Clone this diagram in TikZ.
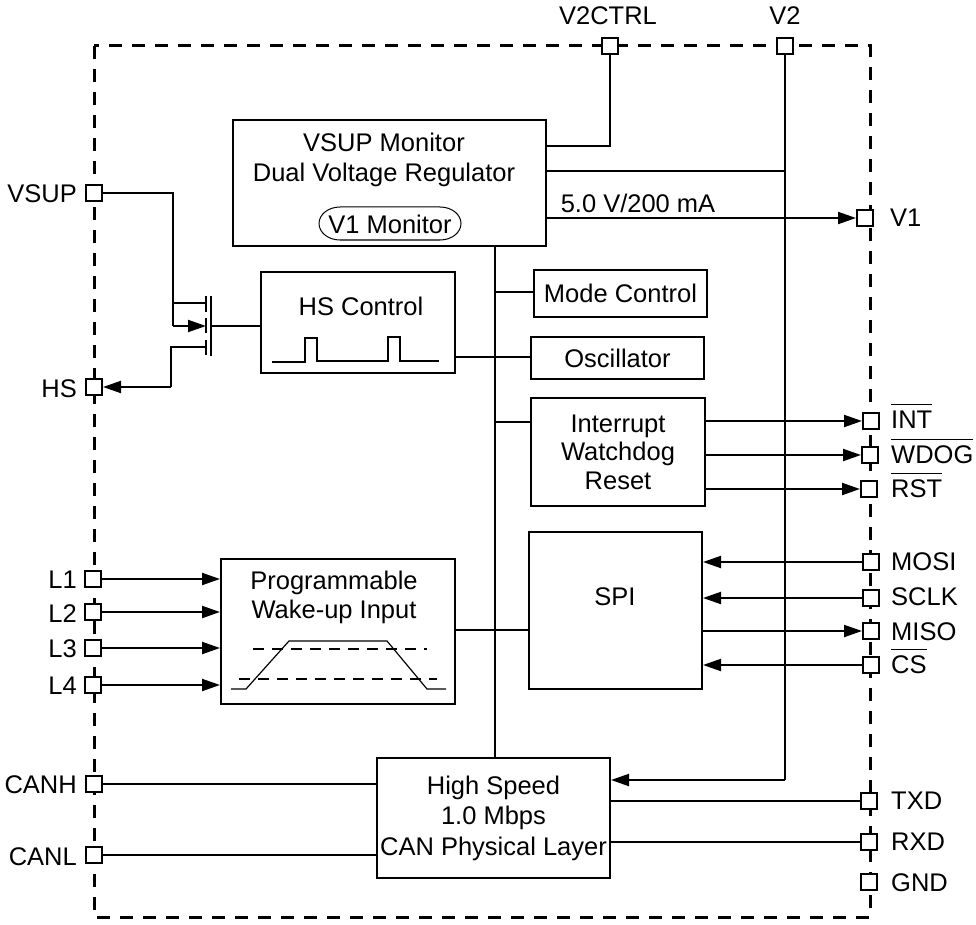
\documentclass[tikz,border=0pt]{standalone}
\usepackage{fontspec}
\setmainfont{Liberation Sans}
\usetikzlibrary{arrows.meta}
\newcommand{\barlabel}[1]{$\overline{\mbox{\rule{0pt}{22pt}#1}}$}
\tikzset{
  wire/.style={line width=2pt},
  sig/.style={line width=2pt,-{Stealth[inset=0pt,length=18pt,width=12pt]}},
  thinwire/.style={line width=1.2pt},
  box/.style={draw,line width=2pt,inner sep=0pt,align=center},
  pinbox/.style={draw,line width=2pt,fill=white,inner sep=0pt,minimum size=16pt},
  txt/.style={inner sep=0pt,align=center},
  rlabel/.style={inner sep=0pt,anchor=base west},
  llabel/.style={inner sep=0pt,anchor=base east}
}
\begin{document}
\begin{tikzpicture}[x=1pt,y=-1pt,font=\fontsize{25.5}{28.5}\selectfont]
\useasboundingbox (0,0) rectangle (976,925);
\draw [line width=3pt,dash pattern=on 13pt off 10pt] (94,46) rectangle (870,917);

\node [box,minimum width=313pt,minimum height=126pt] (vreg) at (389.5,183) {};
\node [txt] (vregtext) at (384,160) {VSUP Monitor\\[2pt]Dual Voltage Regulator};
\node [txt] (v1mon) at (390,224) {V1 Monitor};
\draw [line width=1pt] (340,207) -- (440,207) arc (-90:90:21 and 16.5) -- (340,240) arc (90:270:21 and 16.5);
\node [box,minimum width=194pt,minimum height=101pt] (hsctrl) at (358,322.5) {};
\node [txt] (hstext) at (361,306) {HS Control};
\node [box,minimum width=173pt,minimum height=47pt] (mode) at (620.5,293.5) {Mode Control};
\node [box,minimum width=173pt,minimum height=42pt] (osc) at (617.5,358) {Oscillator};
\node [box,minimum width=174pt,minimum height=108pt] (intr) at (618,452) {Interrupt\\Watchdog\\Reset};
\node [box,minimum width=173pt,minimum height=157pt] (spi) at (615.5,610.5) {};
\node [txt] (spitext) at (615,597) {SPI};
\node [box,minimum width=234pt,minimum height=145pt] (wake) at (338,631.5) {};
\node [txt] (waketext) at (334,597.5) {Programmable\\Wake-up Input};
\node [box,minimum width=233pt,minimum height=120pt] (can) at (493.5,818) {High Speed\\[2pt]1.0 Mbps\\[2pt]CAN Physical Layer};

\node [pinbox] (v2ctrlpin) at (610,46) {};
\node [pinbox] (v2pin) at (785,46) {};
\node [pinbox] (v1pin) at (865,218) {};
\node [pinbox] (vsuppin) at (94,193) {};
\node [pinbox] (hspin) at (94,387) {};
\node [pinbox] (l1pin) at (93,579) {};
\node [pinbox] (l2pin) at (93,612) {};
\node [pinbox] (l3pin) at (93,648) {};
\node [pinbox] (l4pin) at (93,685) {};
\node [pinbox] (canhpin) at (94,784) {};
\node [pinbox] (canlpin) at (94,855) {};
\node [pinbox] (intpin) at (871,421) {};
\node [pinbox] (wdogpin) at (870,455) {};
\node [pinbox] (rstpin) at (869,489) {};
\node [pinbox] (mosipin) at (871,562) {};
\node [pinbox] (sclkpin) at (871,598) {};
\node [pinbox] (misopin) at (871,631) {};
\node [pinbox] (cspin) at (871,665) {};
\node [pinbox] (txdpin) at (869,801) {};
\node [pinbox] (rxdpin) at (869,842) {};
\node [pinbox] (gndpin) at (869,882) {};

\node [inner sep=0pt] (v2ctrllabel) at (608,16) {V2CTRL};
\node [inner sep=0pt] (v2label) at (785,16) {V2};
\node [rlabel] (v1label) at (890,227) {V1};
\node [llabel] (vsuplabel) at (77,203) {VSUP};
\node [llabel] (hslabel) at (77,397) {HS};
\node [llabel] (l1label) at (77,588) {L1};
\node [llabel] (l2label) at (77,622) {L2};
\node [llabel] (l3label) at (77,657) {L3};
\node [llabel] (l4label) at (77,694) {L4};
\node [llabel] (canhlabel) at (77,793) {CANH};
\node [llabel] (canllabel) at (77,865) {CANL};
\node [rlabel] (intlabel) at (891,428) {\barlabel{INT}};
\node [rlabel] (wdoglabel) at (891,463) {\barlabel{WDOG}};
\node [rlabel] (rstlabel) at (891,497) {\barlabel{RST}};
\node [rlabel] (mosilabel) at (891,570) {MOSI};
\node [rlabel] (sclklabel) at (891,605) {SCLK};
\node [rlabel] (misolabel) at (891,640) {MISO};
\node [rlabel] (cslabel) at (891,673) {\barlabel{CS}};
\node [rlabel] (txdlabel) at (891,809) {TXD};
\node [rlabel] (rxdlabel) at (891,850) {RXD};
\node [rlabel] (gndlabel) at (891,891) {GND};
\node [inner sep=0pt] (ratelabel) at (638,203) {5.0 V/200 mA};

\coordinate (v2tap) at (785,171);
\coordinate (ctrltap) at (610,146);
\coordinate (v2end) at (785,780);
\draw [wire] (v2ctrlpin) -- (ctrltap) -- (vreg.east |- ctrltap);
\draw [wire] (vreg.east |- v2tap) -- (v2tap);
\draw [wire] (v2pin) -- (v2end);
\draw [sig] (v2end) -- (can.east |- v2end);
\draw [sig] (vreg.east |- v1pin) -- (v1pin);

\coordinate (bustop) at (495,246);
\coordinate (busbot) at (495,758);
\coordinate (modetap) at (495,292);
\coordinate (inttap) at (495,422);
\draw [wire] (bustop) -- (busbot);
\draw [wire] (modetap) -- (mode.west |- modetap);
\draw [wire] (inttap) -- (intr.west |- inttap);
\coordinate (osctap) at (495,357);
\draw [wire] (hsctrl.east |- osctap) -- (osc.west |- osctap);
\coordinate (spitap) at (495,630);
\draw [wire] (wake.east |- spitap) -- (spi.west |- spitap);

\draw [sig] (intr.east |- intpin) -- (intpin);
\draw [sig] (intr.east |- wdogpin) -- (wdogpin);
\draw [sig] (intr.east |- rstpin) -- (rstpin);
\draw [sig] (mosipin) -- (spi.east |- mosipin);
\draw [sig] (sclkpin) -- (spi.east |- sclkpin);
\draw [sig] (spi.east |- misopin) -- (misopin);
\draw [sig] (cspin) -- (spi.east |- cspin);
\draw [wire] (can.east |- txdpin) -- (txdpin);
\draw [wire] (can.east |- rxdpin) -- (rxdpin);
\draw [wire] (canhpin) -- (can.west |- canhpin);
\draw [wire] (canlpin) -- (can.west |- canlpin);
\draw [sig] (l1pin) -- (wake.west |- l1pin);
\draw [sig] (l2pin) -- (wake.west |- l2pin);
\draw [sig] (l3pin) -- (wake.west |- l3pin);
\draw [sig] (l4pin) -- (wake.west |- l4pin);

\coordinate (fetsource) at (206,326);
\coordinate (fetgate) at (211,326);
\coordinate (fettop) at (206,303);
\coordinate (fetdrain) at (206,347);
\draw [wire] (vsuppin) -| (173,326);
\draw [wire] (173,303) -- (fettop);
\draw [sig] (173,326) -- (fetsource);
\draw [wire] (fetdrain) -| (171,387);
\draw [sig] (171,387) -- (hspin);
\draw [wire] (fetgate) -- (hsctrl.west |- fetgate);
\draw [wire] (211,296) -- (211,356);
\draw [wire] (206,296) -- (206,312);
\draw [wire] (206,318) -- (206,333);
\draw [wire] (206,340) -- (206,355);

\draw [thinwire] (272,362) -- (305,362) -- (305,338) -- (317,338) -- (317,361) -- (388,361) -- (388,337) -- (400,337) -- (400,361) -- (439,361);
\draw [thinwire] (231,689) -- (246,689) -- (289,641) -- (387,641) -- (427,689) -- (446,689);
\draw [thinwire,dash pattern=on 11pt off 8pt] (253,649) -- (427,649);
\draw [thinwire,dash pattern=on 11pt off 8pt] (239,679) -- (437,679);
\end{tikzpicture}
\end{document}
